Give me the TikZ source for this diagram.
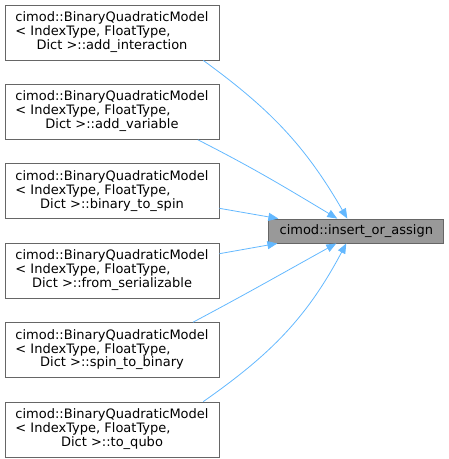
\documentclass[tikz,border=0pt]{standalone}
\usepackage{fontspec}
\setmainfont{DejaVu Sans}
\usepackage{xcolor}
\definecolor{edgeblue}{HTML}{63B8FF}
\definecolor{boxgray}{HTML}{666666}
\definecolor{fngray}{HTML}{999999}
\usetikzlibrary{arrows.meta, positioning, calc}

\newcommand{\bqm}[1]{\begin{tabular}{@{}l@{}}cimod::BinaryQuadraticModel\\
  < IndexType, FloatType,\\
  \multicolumn{1}{@{}c@{}}{Dict >::#1}\end{tabular}}

\begin{document}
\begin{tikzpicture}[
    caller/.style={rectangle, draw=boxgray, line width=0.8pt, fill=white,
      minimum width=214pt, minimum height=55pt, inner sep=0pt,
      font=\fontsize{13}{13.5}\selectfont},
    callee/.style={rectangle, draw=boxgray, line width=0.8pt, fill=fngray,
      minimum width=175pt, minimum height=24pt, inner sep=0pt,
      font=\fontsize{13}{13.5}\selectfont},
    edge/.style={edgeblue, line width=0.8pt,
      -{Triangle[length=10pt, width=8pt]}},
    node distance=23.6pt
]
\useasboundingbox (0,0) rectangle (449pt,-459pt);

\node[caller] (b1) at (112pt,-32.5pt) {\bqm{add\_interaction}};
\node[caller, below=of b1] (b2) {\bqm{add\_variable}};
\node[caller, below=of b2] (b3) {\bqm{binary\_to\_spin}};
\node[caller, below=of b3] (b4) {\bqm{from\_serializable}};
\node[caller, below=of b4] (b5) {\bqm{spin\_to\_binary}};
\node[caller, below=of b5] (b6) {\bqm{to\_qubo}};

\node[callee, right=49pt of $(b3.east)!0.5!(b4.east)$] (fn)
  {cimod::insert\_or\_assign};

\draw[edge] (b1.-17) to[out=-36, in=120] ([xshift=-9pt]fn.north);
\draw[edge] (b2.-18) to[out=-27, in=149] ([xshift=-19pt]fn.north);
\draw[edge] (b3.-9) -- ([xshift=10pt]fn.north west);
\draw[edge] (b4.9) -- ([xshift=9pt]fn.south west);
\draw[edge] (b5.19) to[out=28, in=-151] ([xshift=-20pt]fn.south);
\draw[edge] (b6.17) to[out=35, in=-118] ([xshift=-10pt]fn.south);
\end{tikzpicture}
\end{document}
